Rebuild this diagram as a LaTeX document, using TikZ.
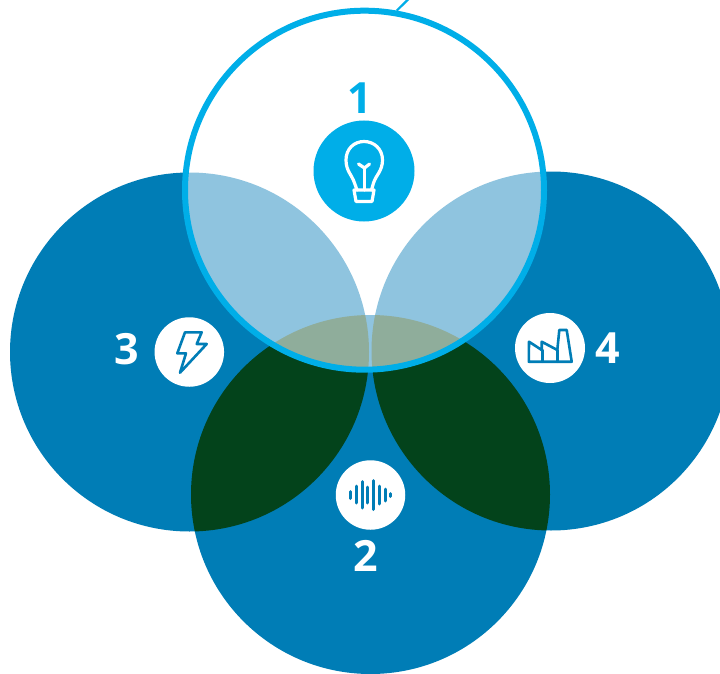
\documentclass[tikz,border=0pt]{standalone}
\usepackage{fontspec}
\setmainfont{Open Sans}
\definecolor{baseblue}{HTML}{007DB6}
\definecolor{darkgreen}{HTML}{03431B}
\definecolor{paleblue}{HTML}{8FC4DF}
\definecolor{olive}{HTML}{8FAD9B}
\definecolor{cyanring}{HTML}{00AEE8}
\tikzset{
  digit/.style={inner sep=0pt,font=\fontsize{43}{43}\selectfont\bfseries},
  badge/.style={circle,inner sep=0pt,fill=white},
  icon/.style={line width=2.6pt,line join=round,line cap=round,baseblue},
}
\def\CL{(189.5,352) circle (179.5)}
\def\CR{(551,351) circle (179.5)}
\def\CB{(370.5,494.5) circle (179.5)}
\def\CT{(364.5,190.2) circle (179.5)}
\begin{document}
\begin{tikzpicture}[x=1pt,y=-1pt]
\useasboundingbox (0,0) rectangle (720,674);
\fill[white] (0,0) rectangle (720,674);
% base circles
\fill[baseblue] \CL;
\fill[baseblue] \CR;
\fill[baseblue] \CB;
\begin{scope}
  \clip \CB;
  \fill[darkgreen] \CL;
  \fill[darkgreen] \CR;
\end{scope}
% top circle
\fill[white] \CT;
\begin{scope}
  \clip \CT;
  \fill[paleblue] \CL;
  \fill[paleblue] \CR;
  \fill[paleblue] \CB;
  \begin{scope}
    \clip \CB;
    \fill[olive] \CL;
    \fill[olive] \CR;
  \end{scope}
\end{scope}
\draw[cyanring,line width=6pt] \CT;
\coordinate (tickA) at (396.7,10.7);
\coordinate (tickB) at (408.5,-1);
\draw[cyanring,line width=2.2pt] (tickA) -- (tickB);
% badges
\node[badge,fill=cyanring,minimum size=101pt] (b1) at (364,171) {};
\node[badge,minimum size=69.5pt] (b3) at (189.3,352) {};
\node[badge,minimum size=70pt] (b4) at (550,348) {};
\node[badge,minimum size=69.5pt] (b2) at (370.5,495) {};
% digits
\node[digit,text=cyanring] (n1) at (359.5,98.5) {1};
\node[digit,text=white] (n3) at (126.5,349) {3};
\node[digit,text=white] (n4) at (608,348.5) {4};
\node[digit,text=white] (n2) at (366,556) {2};
% bulb
\begin{scope}[white,line width=3.2pt,line join=round,line cap=round]
  \draw (357,190) -- (354.5,183) .. controls (352,175) and (346,171) .. (346,160)
        .. controls (346,149) and (354,141.5) .. (364,141.5)
        .. controls (374,141.5) and (382.5,149) .. (382.5,160)
        .. controls (382.5,171) and (376,175) .. (373.5,183) -- (371.5,190);
  \draw (354,190) -- (374,190) -- (372,201.5) -- (356,201.5) -- cycle;
  \draw (364.5,190) -- (364.5,168);
  \draw (358.5,164) -- (364.5,168) -- (369.5,164);
\end{scope}
% bolt
\draw[icon] (185,332.3) -- (201.7,332.3) -- (196.7,344) -- (206.7,344) -- (180,372.7)
  -- (186,353.3) -- (177.3,353.3) -- cycle;
% factory
\draw[icon] (528.8,361.7) -- (571.7,361.7) -- (566.7,330) -- (559.3,330) -- (557.3,350)
  -- (541.7,341.7) -- (541.7,350) -- (529,341.7) -- cycle;
\draw[icon] (542.5,350) -- (542.5,361.7);
\draw[icon] (557.3,350) -- (557.3,361.7);
% waveform
\begin{scope}[baseblue,line width=3pt,line cap=round]
  \draw (350.3,491.5) -- (350.3,498.5);
  \draw (356,486) -- (356,503);
  \draw (362,481.5) -- (362,508);
  \draw (367.7,487) -- (367.7,503);
  \draw (373.3,480.5) -- (373.3,509.5);
  \draw (379.3,486) -- (379.3,504);
  \draw (385,489) -- (385,501);
  \draw (390.7,493.5) -- (390.7,496.5);
\end{scope}
\end{tikzpicture}
\end{document}
